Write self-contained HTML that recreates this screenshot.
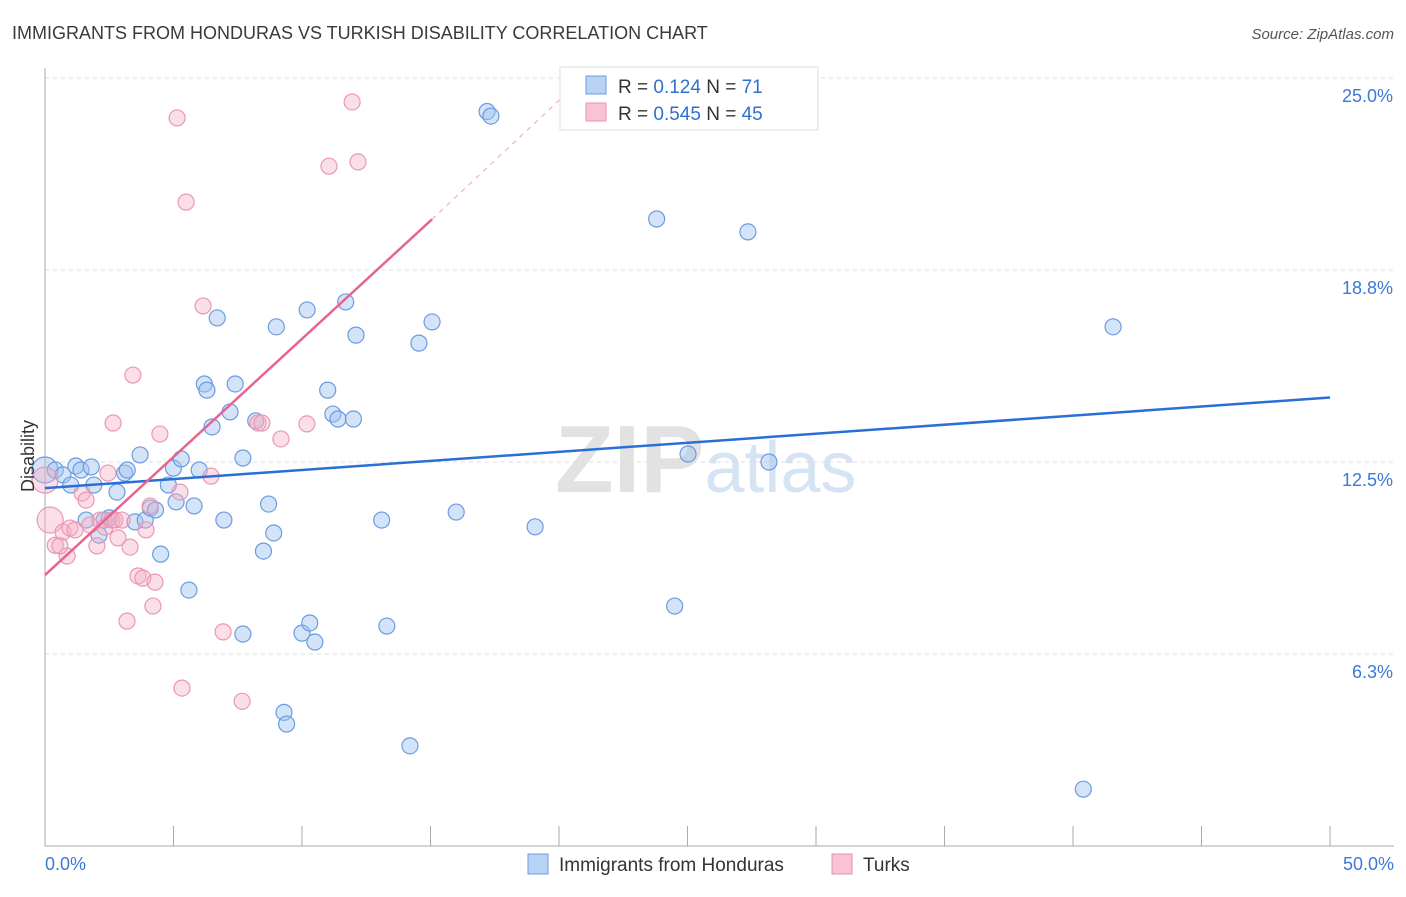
<!DOCTYPE html>
<html><head><meta charset="utf-8"><style>
body{margin:0;background:#fff;font-family:"Liberation Sans",sans-serif}
svg text{font-family:"Liberation Sans",sans-serif}
</style></head><body>
<svg id="chart" width="1406" height="892" xmlns="http://www.w3.org/2000/svg">
<text x="12" y="39" font-size="18" fill="#3a3a3a">IMMIGRANTS FROM HONDURAS VS TURKISH DISABILITY CORRELATION CHART</text>
<text x="1394" y="39" font-size="15" fill="#555" text-anchor="end" font-style="italic">Source: ZipAtlas.com</text>
<text x="555" y="492" font-size="96" fill="#e2e2e2" font-family="Liberation Serif" font-weight="bold">ZIP<tspan fill="#d6e3f3" font-family="Liberation Sans" font-weight="normal" font-size="72">atlas</tspan></text>
<g id="grid"></g><g id="axes"></g><g id="pts"></g><g id="lines"></g>
<g>
<rect x="560" y="67" width="258" height="63" fill="#fff" stroke="#ddd"/>
<rect x="586" y="76" width="20" height="18" fill="#b9d3f5" stroke="#6b9be0"/>
<text x="618" y="93" font-size="19" fill="#333">R = <tspan fill="#2f6fd0">0.124</tspan>   N = <tspan fill="#2f6fd0"> 71</tspan></text>
<rect x="586" y="103" width="20" height="18" fill="#f8c3d3" stroke="#e890aa"/>
<text x="618" y="120" font-size="19" fill="#333">R = <tspan fill="#2f6fd0">0.545</tspan>   N = <tspan fill="#2f6fd0">45</tspan></text>
</g>
<g>
<rect x="528" y="854" width="20" height="20" fill="#b9d3f5" stroke="#6b9be0"/>
<text x="559" y="871" font-size="19" fill="#333">Immigrants from Honduras</text>
<rect x="832" y="854" width="20" height="20" fill="#f8c3d3" stroke="#e890aa"/>
<text x="863" y="871" font-size="19" fill="#333">Turks</text>
</g>
<text transform="translate(34,456) rotate(-90)" font-size="18" fill="#333" text-anchor="middle">Disability</text>
</svg>
<script>
const xTicks=[0,5,10,15,20,25,30,35,40,45,50];
const yTicks=[6.25,12.5,18.75,25];
const yTickLabels=["6.3%","12.5%","18.8%","25.0%"];
const blueX=[0.0,0.4,0.7,1.0,1.2,1.4,1.8,1.9,1.6,2.1,2.3,2.5,2.8,3.1,3.2,3.5,3.7,3.9,4.1,4.3,4.5,4.8,5.0,5.1,5.3,5.6,5.8,6.0,6.2,6.3,6.5,6.7,6.96,7.2,7.4,7.7,7.7,8.2,8.5,8.7,8.9,9.0,9.3,9.4,10.0,10.2,10.3,10.5,11.0,11.2,11.4,11.7,12.0,12.1,13.1,13.3,14.2,14.55,15.06,16.0,17.2,17.35,19.07,23.8,24.5,25.02,27.35,28.17,40.4,41.56];
const blueY=[12.24,12.24,12.08,11.75,12.37,12.24,12.34,11.75,10.61,10.12,10.61,10.68,11.52,12.14,12.24,10.55,12.73,10.61,11.0,10.94,9.5,11.75,12.3,11.2,12.6,8.33,11.07,12.24,15.04,14.84,13.64,17.19,10.61,14.13,15.04,6.9,12.63,13.84,9.6,11.13,10.19,16.9,4.35,3.97,6.93,17.45,7.26,6.64,14.84,14.06,13.9,17.71,13.9,16.63,10.61,7.16,3.26,16.37,17.06,10.87,23.91,23.76,10.39,20.41,7.81,12.76,19.99,12.5,1.85,16.9];
const pinkX=[0.0,0.2,0.4,0.7,0.86,0.97,1.17,1.44,1.6,1.75,2.02,2.14,2.33,2.45,2.61,2.72,2.84,3.0,3.19,3.31,3.42,3.62,3.81,3.93,4.09,4.2,4.28,4.47,5.14,5.25,5.33,5.49,6.15,6.46,6.93,7.67,8.29,8.44,9.18,10.19,11.05,11.95,12.18,2.65,0.58];
const pinkY=[11.91,10.61,9.79,10.22,9.44,10.35,10.29,11.49,11.26,10.45,9.77,10.61,10.38,12.14,10.61,10.61,10.03,10.61,7.32,9.73,15.33,8.79,8.72,10.29,11.07,7.81,8.59,13.41,23.7,11.52,5.14,20.96,17.58,12.04,6.97,4.71,13.77,13.77,13.25,13.74,22.13,24.22,22.27,13.77,9.77];
const X=v=>45+v*25.7, Y=v=>846-v*30.72;
const NS="http://www.w3.org/2000/svg";
function mk(tag,attrs,parent){const e=document.createElementNS(NS,tag);for(const k in attrs)e.setAttribute(k,attrs[k]);document.getElementById(parent).appendChild(e);return e;}
yTicks.forEach((t,i)=>{
 const l=mk('line',{x1:45,x2:1394,y1:Y(t),y2:Y(t),stroke:'#ddd','stroke-dasharray':'4,4'},'grid');
 
 
 const tx=mk('text',{x:1393,y:Y(t)+24,'font-size':18,fill:'#3b78d8','text-anchor':'end'},'grid');tx.textContent=yTickLabels[i];
 
 
});
const ax=mk('line',{x1:45,x2:45,y1:68,y2:846,stroke:'#aaa'},'axes');


const bx=mk('line',{x1:45,x2:1394,y1:846,y2:846,stroke:'#aaa'},'axes');


xTicks.forEach(t=>{const l=mk('line',{x1:X(t),x2:X(t),y1:826,y2:846,stroke:'#aaa'},'axes');
 
 });
const x0=mk('text',{x:45,y:870,'font-size':18,fill:'#3b78d8'},'axes');x0.textContent='0.0%';


const x1=mk('text',{x:1394,y:870,'font-size':18,fill:'#3b78d8','text-anchor':'end'},'axes');x1.textContent='50.0%';


blueX.forEach((v,i)=>{const c=mk('circle',{cx:X(v),cy:Y(blueY[i]),r:i==0?13:8,fill:'rgba(160,196,240,0.45)',stroke:'#6b9be0','stroke-width':1.2},'pts');
 
 });
pinkX.forEach((v,i)=>{const c=mk('circle',{cx:X(v),cy:Y(pinkY[i]),r:i<2?13:8,fill:'rgba(246,176,198,0.4)',stroke:'#ea98b2','stroke-width':1.2},'pts');
 
 });
const bl=mk('line',{x1:X(0),y1:Y(11.65),x2:X(50),y2:Y(14.6),stroke:'#2a6fd6','stroke-width':2.5},'lines');


const pl=mk('line',{x1:X(0),y1:Y(8.82),x2:X(15.06),y2:Y(20.4),stroke:'#e8648f','stroke-width':2.5},'lines');


const pd=mk('line',{x1:X(15.06),y1:Y(20.4),x2:X(20.8),y2:Y(24.9),stroke:'#efb0c4','stroke-width':1.2,'stroke-dasharray':'5,5'},'lines');


</script>
</body></html>
